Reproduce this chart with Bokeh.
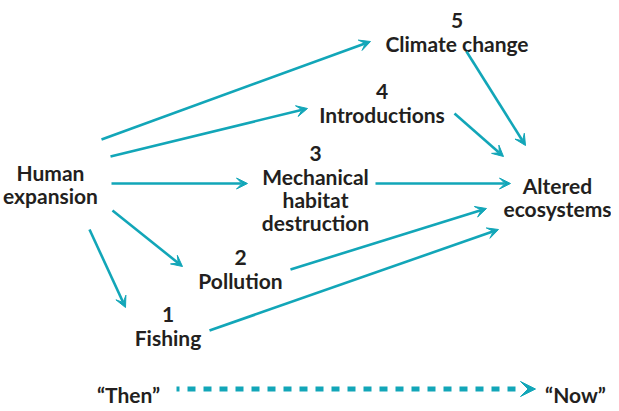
from bokeh.plotting import figure
from bokeh.models import Range1d, Arrow, VeeHead, ColumnDataSource
from bokeh.core.properties import value
from bokeh.embed import file_html
from bokeh.resources import INLINE

# ---------------- data ----------------
source_lines = ["Human", "expansion"]
target_lines = ["Altered", "ecosystems"]
driver_ranks = ["5", "4", "3", "2", "1"]
driver_names = [["Climate change"], ["Introductions"],
                ["Mechanical", "habitat", "destruction"], ["Pollution"], ["Fishing"]]
timeline_labels = ["\u201cThen\u201d", "\u201cNow\u201d"]

# ---------------- layout (page pixel coordinates) ----------------
TEAL = "#12a6b8"
INK = "#231f20"
FONT = "Lato"
FSIZE = "21px"
LINE_STEP = 23

source_anchor = (58, 180)          # centre x, first baseline
target_anchor = (565, 193)
driver_anchors = [(464.5, 28), (389.5, 99), (323, 161), (248, 265), (175.5, 322)]
in_edges = [((109, 147), (378, 49)), ((118, 164), (315, 116)), ((119, 191), (255, 191)),
            ((120, 218), (190, 274)), ((97, 237), (133, 315))]
out_edges = [((474, 59), (533, 153)), ((462, 121), (511, 164)), ((383, 191), (518, 191)),
             ((298, 277), (494, 216)), ((217, 338), (506, 237))]
timeline_text_x = [136, 583]
timeline_baseline = 402
timeline_y = 396.5
timeline_x = (184, 527)
timeline_head = (527, 543)

W, H = 611, 403
p = figure(width=W, height=H, x_range=Range1d(8, 8 + W), y_range=Range1d(8 + H, 8),
           x_axis_location=None, y_axis_location=None, title_location=None,
           output_backend="svg", toolbar_location=None, min_border=0)
p.grid.visible = False
p.outline_line_color = None
p.background_fill_color = "white"
p.border_fill_color = "white"

xs, ys, ts = [], [], []
def block(x, y0, lines):
    for i, t in enumerate(lines):
        xs.append(x); ys.append(y0 + i * LINE_STEP); ts.append(t)

block(source_anchor[0], source_anchor[1], source_lines)
block(target_anchor[0], target_anchor[1], target_lines)
for (x, y), r, names in zip(driver_anchors, driver_ranks, driver_names):
    block(x, y, [r] + names)
for x, t in zip(timeline_text_x, timeline_labels):
    xs.append(x); ys.append(timeline_baseline); ts.append(t)

src = ColumnDataSource(dict(x=xs, y=ys, text=ts))
p.text(x="x", y="y", text="text", source=src, text_font=value(FONT),
       text_font_style="bold", text_font_size=FSIZE, text_color=INK,
       text_align="center", text_baseline="alphabetic")

for (a, b) in in_edges + out_edges:
    p.add_layout(Arrow(x_start=a[0], y_start=a[1], x_end=b[0], y_end=b[1],
                       line_color=TEAL, line_width=2.6,
                       end=VeeHead(size=11, fill_color=TEAL, line_color=TEAL, line_width=1)))

# dotted timeline
p.line(x=list(timeline_x), y=[timeline_y, timeline_y], line_color=TEAL, line_width=5,
       line_dash="8 8", line_dash_offset=5)
p.add_layout(Arrow(x_start=timeline_head[0], y_start=timeline_y, x_end=timeline_head[1],
                   y_end=timeline_y, line_alpha=0,
                   end=VeeHead(size=15, fill_color=TEAL, line_color=TEAL, line_width=1)))

open("out.html", "w").write(file_html(p, INLINE))
